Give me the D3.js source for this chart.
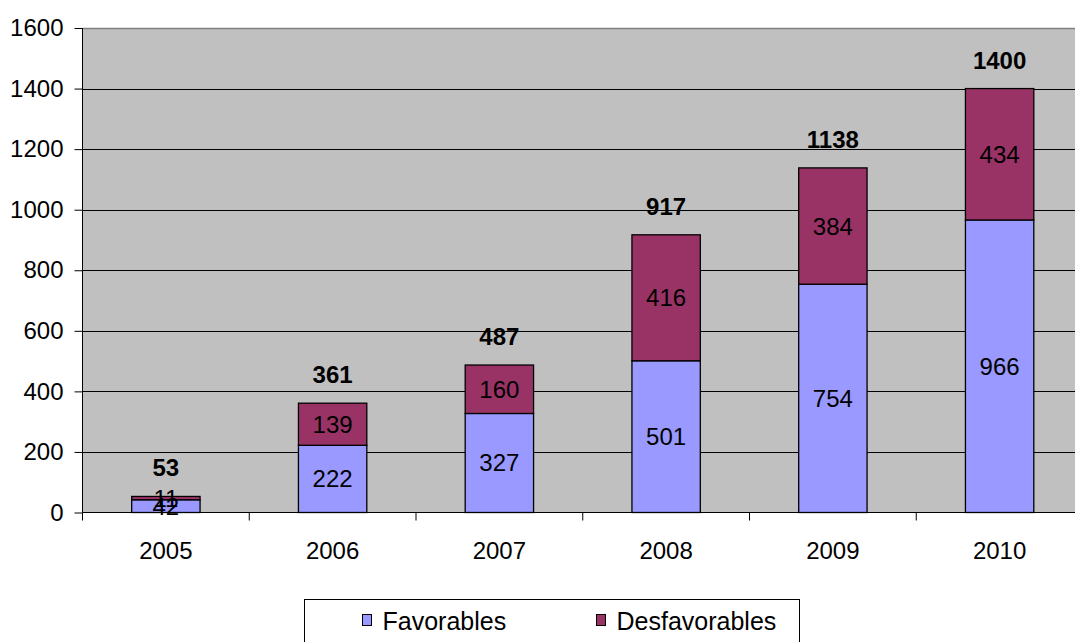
<!DOCTYPE html>
<html>
<head>
<meta charset="utf-8">
<script src="https://cdn.jsdelivr.net/npm/d3@7"></script>
<style>
  body { margin: 0; background: #fff; overflow: hidden; }
  svg { display: block; }
</style>
</head>
<body>
<svg id="chart"></svg>
<script>
var years = ['2005', '2006', '2007', '2008', '2009', '2010']
var favorables = [42, 222, 327, 501, 754, 966]
var desfavorables = [11, 139, 160, 416, 384, 434]
var totals = [53, 361, 487, 917, 1138, 1400]
var yTicks = [0, 200, 400, 600, 800, 1000, 1200, 1400, 1600]
var seriesNames = ['Favorables', 'Desfavorables']
var colors = ['#9999FF', '#993366']

var W = 1075, H = 642
var pLeft = 82.5, pTop = 28, pBottom = 512.5, pRight = 1083
var font = 'Liberation Sans, Arial, sans-serif'
var fs = 24

var svg = d3.select('#chart').attr('width', W).attr('height', H)

var x = d3.scaleBand().domain(years).range([pLeft, pRight]).paddingInner(0.59).paddingOuter(0.295)
var y = d3.scaleLinear().domain([0, 1600]).range([pBottom, pTop])

// plot background
svg.append('rect')
  .attr('x', pLeft).attr('y', pTop)
  .attr('width', pRight - pLeft).attr('height', pBottom - pTop)
  .attr('fill', '#C0C0C0')
svg.append('line')
  .attr('x1', pLeft).attr('x2', pRight)
  .attr('y1', pTop + 0.5).attr('y2', pTop + 0.5)
  .attr('stroke', '#808080').attr('stroke-width', 1.5)

// gridlines
svg.append('g').selectAll('line')
  .data(yTicks.filter(d => d > 0 && d < 1600))
  .join('line')
  .attr('x1', pLeft).attr('x2', pRight)
  .attr('y1', d => Math.round(y(d)) + 0.5).attr('y2', d => Math.round(y(d)) + 0.5)
  .attr('stroke', '#000').attr('stroke-width', 1)

// y axis
var yAxis = svg.append('g')
  .attr('transform', `translate(${pLeft},0)`)
  .call(d3.axisLeft(y).tickValues(yTicks).tickSize(8).tickPadding(11).tickFormat(d3.format('d')))
yAxis.selectAll('text').attr('font-size', fs).attr('font-family', font).attr('fill', '#000')
yAxis.selectAll('line, path').attr('stroke', '#000')
yAxis.select('.domain').attr('d', `M0,${pTop}V${pBottom}`)

// x axis with ticks between categories
var xAxis = svg.append('g')
  .attr('transform', `translate(0,${pBottom})`)
xAxis.append('line')
  .attr('x1', pLeft).attr('x2', pRight).attr('y1', 0).attr('y2', 0)
  .attr('stroke', '#000')
var step = x.step()
xAxis.selectAll('.tk')
  .data(d3.range(years.length))
  .join('line')
  .attr('class', 'tk')
  .attr('x1', i => pLeft + i * step).attr('x2', i => pLeft + i * step)
  .attr('y1', 0).attr('y2', 8)
  .attr('stroke', '#000')
xAxis.selectAll('.yl')
  .data(years)
  .join('text')
  .attr('class', 'yl')
  .attr('x', d => x(d) + x.bandwidth() / 2)
  .attr('y', 46)
  .attr('text-anchor', 'middle')
  .attr('font-size', fs).attr('font-family', font)
  .text(d => d)

// stacked bars
var rows = years.map((yr, i) => ({ year: yr, Favorables: favorables[i], Desfavorables: desfavorables[i], total: totals[i] }))
var stacked = d3.stack().keys(seriesNames)(rows)

var layers = svg.append('g').selectAll('g')
  .data(stacked)
  .join('g')
  .attr('fill', (d, i) => colors[i])

layers.selectAll('rect')
  .data(d => d)
  .join('rect')
  .attr('x', d => x(d.data.year))
  .attr('y', d => y(d[1]))
  .attr('width', x.bandwidth())
  .attr('height', d => y(d[0]) - y(d[1]))
  .attr('stroke', '#000').attr('stroke-width', 1.3)

// segment labels
var labels = svg.append('g').selectAll('g')
  .data(stacked)
  .join('g')
labels.selectAll('text')
  .data((d, i) => d.map(v => ({ v: v, key: seriesNames[i] })))
  .join('text')
  .attr('x', d => x(d.v.data.year) + x.bandwidth() / 2)
  .attr('y', d => (y(d.v[0]) + y(d.v[1])) / 2 + 8.5)
  .attr('text-anchor', 'middle')
  .attr('font-size', fs).attr('font-family', font)
  .attr('fill', '#000')
  .text(d => d.v.data[d.key])

// totals
svg.append('g').selectAll('text')
  .data(rows)
  .join('text')
  .attr('x', d => x(d.year) + x.bandwidth() / 2)
  .attr('y', d => y(d.total) - 20)
  .attr('text-anchor', 'middle')
  .attr('font-size', fs).attr('font-weight', 'bold').attr('font-family', font)
  .text(d => d.total)

// legend
var legend = svg.append('g')
legend.append('rect')
  .attr('x', 304.5).attr('y', 599.5).attr('width', 495).attr('height', 60)
  .attr('fill', '#fff').attr('stroke', '#000')
var legX = [362.5, 596.5]
var items = legend.selectAll('.li')
  .data(seriesNames)
  .join('g')
  .attr('class', 'li')
  .attr('transform', (d, i) => `translate(${legX[i]},614.5)`)
items.append('rect')
  .attr('x', 0).attr('y', 0).attr('width', 9).attr('height', 11)
  .attr('fill', (d, i) => colors[i]).attr('stroke', '#000')
items.append('text')
  .attr('x', 20).attr('y', 15)
  .attr('font-size', 25).attr('font-family', font)
  .text(d => d)
</script>
</body>
</html>
